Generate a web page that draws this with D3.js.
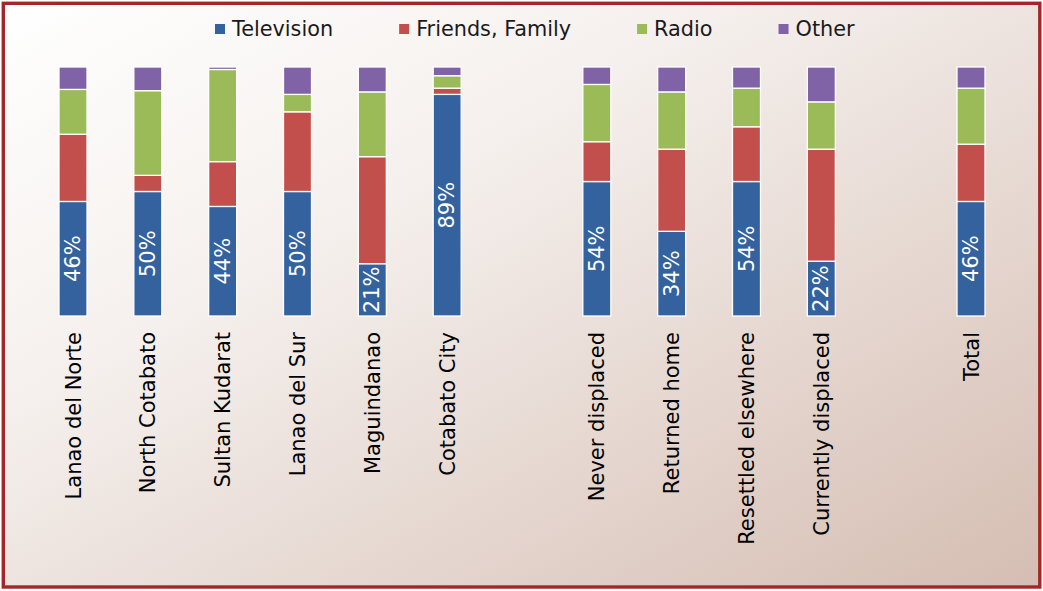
<!DOCTYPE html>
<html>
<head>
<meta charset="utf-8">
<script src="https://cdn.jsdelivr.net/npm/d3@7"></script>
<style>
  html, body { margin: 0; padding: 0; background: #fff; }
  svg { display: block; }
  text { font-family: "DejaVu Sans", Verdana, sans-serif; }
</style>
</head>
<body>
<svg id="chart" width="1043" height="591"></svg>
<script>
// ---- data ----
const categories = ["Lanao del Norte", "North Cotabato", "Sultan Kudarat", "Lanao del Sur", "Maguindanao", "Cotabato City",
                    "Never displaced", "Returned home", "Resettled elsewhere", "Currently displaced", "Total"];
const groupSizes = [6, 4, 1];   // bars per group (gaps between groups)
const seriesNames = ["Television", "Friends, Family", "Radio", "Other"];
const television    = [46, 50, 44, 50, 21, 89, 54, 34, 54, 22, 46];
const friendsFamily = [27, 6.5, 18, 32, 43, 2.5, 16, 33, 22, 45, 23];
const radio         = [18, 34, 37, 7, 26, 5, 23, 23, 15.5, 19, 22.5];
const other         = [9, 9.5, 1, 11, 10, 3.5, 7, 10, 8.5, 14, 8.5];
const labelSeries = "Television";
const colors = ["#33629e", "#c24f4b", "#9bbb59", "#8062a6"];

// ---- layout ----
const W = 1043, H = 591;
const svg = d3.select("#chart");
const defs = svg.append("defs");
const grad = defs.append("linearGradient").attr("id", "bg")
  .attr("x1", "0").attr("y1", "0").attr("x2", "1").attr("y2", "1");
grad.append("stop").attr("offset", "0").attr("stop-color", "#ffffff");
grad.append("stop").attr("offset", "0.35").attr("stop-color", "#f5f0ed");
grad.append("stop").attr("offset", "1").attr("stop-color", "#d5bdb2");

svg.append("rect").attr("x", 0).attr("y", 0).attr("width", W).attr("height", H).attr("fill", "#ffffff");
svg.append("rect").attr("x", 3.3).attr("y", 3.3).attr("width", 1036.5).attr("height", 583.7)
  .attr("fill", "url(#bg)").attr("stroke", "#a4262b").attr("stroke-width", 3.4);

// slots: categories with gap placeholders between groups
const slots = [];
let ci = 0;
groupSizes.forEach((g, gi) => {
  for (let k = 0; k < g; k++) slots.push(categories[ci++]);
  if (gi < groupSizes.length - 1) slots.push("__gap" + gi);
});

const x = d3.scalePoint().domain(slots).range([73, 971]);
const y = d3.scaleLinear().domain([0, 100]).range([316, 67]);
const barW = 28;

const rows = categories.map((c, i) => ({
  cat: c,
  "Television": television[i],
  "Friends, Family": friendsFamily[i],
  "Radio": radio[i],
  "Other": other[i]
}));
const stack = d3.stack().keys(seriesNames)(rows);

const gBars = svg.append("g");
stack.forEach((layer, si) => {
  gBars.selectAll(null).data(layer).enter().append("rect")
    .attr("x", d => x(d.data.cat) - barW / 2)
    .attr("y", d => y(d[1]))
    .attr("width", barW)
    .attr("height", d => y(d[0]) - y(d[1]))
    .attr("fill", colors[si])
    .attr("stroke", "#ffffff")
    .attr("stroke-width", 1.3);
});

// value labels inside Television segment
const tvLayer = stack[seriesNames.indexOf(labelSeries)];
svg.append("g").selectAll("text").data(tvLayer).enter().append("text")
  .attr("transform", d => `translate(${x(d.data.cat)},${(y(d[0]) + y(d[1])) / 2}) rotate(-90)`)
  .attr("text-anchor", "middle")
  .attr("dominant-baseline", "central")
  .attr("fill", "#ffffff")
  .attr("font-size", 21)
  .text(d => d3.format(".0f")(d[1] - d[0]) + "%");

// category axis labels (rotated)
const xAxis = d3.axisBottom(x).tickSize(0).tickFormat(d => d.startsWith("__gap") ? "" : d);
const gx = svg.append("g").attr("transform", "translate(0,316)").call(xAxis);
gx.select(".domain").remove();
gx.selectAll(".tick text")
  .attr("font-family", "DejaVu Sans, Verdana, sans-serif")
  .attr("font-size", 21)
  .attr("fill", "#000000")
  .attr("transform", "rotate(-90)")
  .attr("text-anchor", "end")
  .attr("dominant-baseline", "central")
  .attr("x", -16)
  .attr("y", 0)
  .attr("dy", null);

// legend
const legend = svg.append("g").attr("transform", "translate(215,0)");
let lx = 0;
seriesNames.forEach((name, i) => {
  const g = legend.append("g").attr("transform", `translate(${lx},0)`);
  g.append("rect").attr("x", 0).attr("y", 24).attr("width", 10).attr("height", 10).attr("fill", colors[i]);
  const t = g.append("text").attr("x", 17).attr("y", 36).attr("font-size", 20.8).attr("fill", "#1a1a1a").text(name);
  lx += 17 + t.node().getComputedTextLength() + 66;
});
</script>
</body>
</html>
